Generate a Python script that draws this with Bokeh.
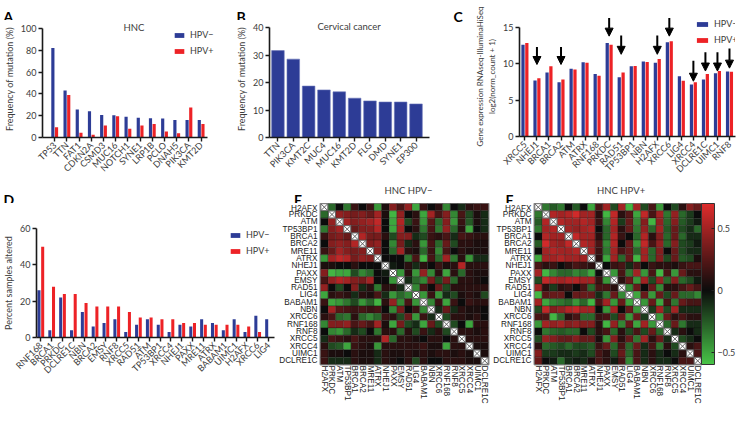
import math
from bokeh.plotting import figure
from bokeh.models import (Range1d, FactorRange, FixedTicker, Legend, LegendItem, Arrow,
                          NormalHead, LinearColorMapper, ColorBar, ColumnDataSource)
from bokeh.transform import dodge
from bokeh.layouts import row, column
from bokeh.embed import file_html
from bokeh.resources import INLINE
from bokeh.core.properties import value

# ---------------- data ----------------
a_genes = ["TP53", "TTN", "FAT1", "CDKN2A", "CSMD3", "MUC16", "NOTCH1", "SYNE1", "LRP1B",
           "PCLO", "DNAH5", "PIK3CA", "KMT2D"]
a_hpv_neg = [82, 43, 25.6, 24, 20.6, 20.3, 19, 18.2, 17.6, 17.4, 16, 16, 16]
a_hpv_pos = [9.4, 39, 4.4, 2.6, 11, 19.4, 8, 11, 12.4, 5.6, 4, 27.6, 12.4]
a_yticks = [0, 20, 40, 60, 80, 100]

b_genes = ["TTN", "PIK3CA", "KMT2C", "MUC4", "MUC16", "KMT2D", "FLG", "DMD", "SYNE1", "EP300"]
b_freq = [31.6, 28.5, 18.7, 17.3, 16.6, 14.3, 13.3, 12.9, 12.9, 12.2]
b_yticks = [0, 10, 20, 30, 40]

c_genes = ["XRCC5", "NHEJ1", "BRCA1", "BRCA2", "ATM", "ATRX", "RNF168", "PRKDC", "RAD51",
           "TP53BP1", "NBN", "H2AFX", "XRCC6", "LIG4", "XRCC4", "DCLRE1C", "UIMC1", "RNF8"]
c_hpv_neg = [12.6, 7.7, 8.8, 7.45, 9.3, 10.2, 8.6, 12.85, 8.15, 9.65, 10.3, 10.15, 12.95,
             8.3, 7.15, 7.85, 8.7, 8.95]
c_hpv_pos = [12.85, 8.0, 9.65, 7.85, 9.2, 10.15, 8.35, 12.6, 8.8, 9.7, 10.25, 10.65, 13.1,
             7.65, 7.45, 8.6, 9.0, 8.9]
c_yticks = [0, 5, 10, 15]
c_arrow_genes = ["NHEJ1", "BRCA2", "PRKDC", "RAD51", "H2AFX", "XRCC6", "XRCC4", "DCLRE1C",
                 "UIMC1", "RNF8"]
c_arrow_tail = [12.3, 12.3, 16.3, 13.9, 13.9, 16.3, 10.4, 11.6, 11.6, 12.1]
c_arrow_tip = [9.9, 9.9, 13.8, 11.3, 11.3, 13.8, 7.6, 9.0, 9.0, 9.4]

d_genes = ["RNF168", "BRCA1", "PRKDC", "DCLRE1C", "NBN", "BRCA2", "EMSY", "RNF8", "XRCC5",
           "RAD51", "ATM", "TP53BP1", "XRCC4", "NHEJ1", "PAXX", "MRE11", "ATRX", "BABAM1",
           "UIMC1", "H2AFX", "XRCC6", "LIG4"]
d_hpv_neg = [26, 4, 22, 4, 14, 6, 8, 10, 3, 7, 10, 7, 3, 7, 6, 10, 8, 4, 10, 3, 12, 10]
d_hpv_pos = [50, 28, 24, 24, 19, 17, 17, 17, 14, 11, 11, 10, 10, 8, 8, 7, 7, 7, 7, 6, 3, 0]
d_yticks = [0, 20, 40, 60]

hm_genes = ["H2AFX", "PRKDC", "ATM", "TP53BP1", "BRCA1", "BRCA2", "MRE11", "ATRX", "NHEJ1",
            "PAXX", "EMSY", "RAD51", "LIG4", "BABAM1", "NBN", "XRCC6", "RNF168", "RNF8",
            "XRCC5", "XRCC4", "UIMC1", "DCLRE1C"]

# upper triangle (row i, columns i+1 ..) of the correlation matrices
e_upper = [
    [-.3, 0, -.35, .15, 0, .15, -.45, .05, .4, .2, .45, -.5, .15, 0, .1, -.4, 0, -.1, .1, .15, .15],
    [.45, .4, .35, .4, .3, .5, .05, -.55, .45, 0, .1, -.5, .5, .2, .4, -.4, .2, -.2, .05, -.1],
    [.5, .4, .45, .5, .6, 0, -.5, .55, -.2, .15, -.45, .25, -.3, .4, -.45, .15, -.25, .05, -.1],
    [.3, .4, .4, .55, 0, -.5, .5, 0, .1, -.35, .2, -.35, .45, -.3, .1, -.5, 0, -.1],
    [.55, .35, .35, .1, -.2, .4, .4, -.1, -.2, .15, .1, .2, -.1, .2, .15, .1, .1],
    [.4, .45, 0, -.4, .35, -.1, .1, -.45, .2, -.3, .3, -.2, .1, .1, .05, .05],
    [.4, 0, -.3, .5, .1, .05, -.3, .15, -.4, .2, 0, .1, .05, .05, .05],
    [0, 0, 0, -.35, .2, -.55, .2, -.3, .5, -.35, .1, -.45, -.1, -.1],
    [-.05, 0, .1, -.1, .1, 0, .15, .05, .1, .55, .1, .1, .1],
    [-.45, .1, -.45, .45, -.4, .1, -.5, .1, -.3, .1, .05, .05],
    [-.1, -.3, -.4, .35, -.2, .35, -.3, .1, .1, .05, 0],
    [-.4, .2, 0, .3, -.2, .1, .1, .1, .1, .1],
    [-.45, .15, -.45, -.1, -.2, .05, .1, .05, -.2],
    [-.4, .15, -.5, .15, 0, .15, .1, .1],
    [-.1, .3, -.1, .1, .05, .05, 0],
    [-.2, .1, .1, .05, .1, 0],
    [-.2, 0, -.5, .1, .1],
    [.1, .1, .05, .1],
    [.1, .1, .1],
    [.05, .05],
    [.05],
]
f_upper = [
    [-.35, -.25, -.35, 0, -.25, 0, -.5, .2, .5, -.2, .5, -.55, .5, -.2, .2, -.45, 0, -.2, .1, .4, .3],
    [.55, .5, .55, .65, .5, .5, .1, -.55, .6, .1, .25, -.5, .6, .2, .5, -.35, .45, -.3, -.15, 0],
    [.55, .5, .5, .55, .5, .15, -.4, .55, -.15, .3, -.4, .4, -.55, .45, -.3, .4, -.25, -.15, -.05],
    [.5, .45, .5, .55, 0, -.3, .5, .1, .3, -.35, .45, -.3, .5, -.25, .3, -.2, -.1, -.3],
    [.6, .5, .5, .1, -.3, .55, .15, 0, -.3, .55, .1, .4, -.3, .3, -.3, -.1, -.1],
    [.55, .5, .2, -.4, .55, 0, .3, -.45, .6, .2, .45, -.3, .4, -.2, -.15, -.05],
    [.5, .15, -.35, .5, .2, .3, -.3, .5, -.3, .4, 0, .3, -.2, -.1, -.1],
    [.1, -.5, .5, -.3, .3, -.55, .5, -.3, .4, -.2, .3, -.25, -.2, .05],
    [0, .15, .2, -.1, .2, 0, .15, .1, .1, .05, .15, .2, .2],
    [-.45, .2, -.35, .5, -.45, .2, -.55, .2, -.45, .3, .1, .1],
    [.1, .3, -.45, .5, -.2, .45, -.3, .4, -.3, -.2, -.05],
    [-.4, .3, 0, .3, -.4, .1, .1, .2, .3, .2],
    [-.5, .3, -.45, .3, -.2, .3, -.3, -.3, -.4],
    [-.45, .3, -.5, .2, -.35, .3, .2, .2],
    [-.15, .5, -.2, .5, -.1, -.1, -.1],
    [-.45, .3, .1, .2, .1, .1],
    [-.3, .3, -.35, -.1, -.1],
    [-.1, .1, 0, -.1],
    [-.2, -.1, 0],
    [.1, .2],
    [.2],
]
cbar_ticks = [-0.5, 0, 0.5]
cbar_labels = ["\u22120.5", "0", "0.5"]
cbar_low, cbar_high = -0.6, 0.7

# ---------------- style ----------------
BLUE = "#2d3c96"
RED = "#ed2226"
FONT = "Lato"
HFONT = "Liberation Sans"
TXT = "#3c3c3c"


def strip(width, height, letters, titles=()):
    """A blank strip that holds panel letters and titles (positions in px)."""
    h = figure(width=width, height=height, x_range=Range1d(0, width),
               y_range=Range1d(height, 0), output_backend="svg", toolbar_location=None,
               x_axis_location=None, y_axis_location=None, min_border=0,
               min_border_left=0, min_border_right=0, min_border_top=0, min_border_bottom=0,
               frame_align=False)
    h.outline_line_color = None
    h.grid.visible = False
    h.text(x=[l[1] for l in letters], y=[l[2] for l in letters], text=[l[0] for l in letters],
           text_font=value(FONT), text_font_size=value("14px"), text_font_style="bold",
           text_align="left", text_baseline="alphabetic", text_color="black")
    if titles:
        h.text(x=[t[1] for t in titles], y=[t[2] for t in titles], text=[t[0] for t in titles],
               text_font=value(FONT), text_font_size=value("9.5px"), text_align="center",
               text_baseline="middle", text_color=TXT)
    return h


def bar_fig(width, height, borders, xr, yr, genes, yticks, ylabel, ybounds=None, xbounds=None):
    L, R, T, B = borders
    p = figure(width=width, height=height, x_range=Range1d(*xr), y_range=Range1d(*yr),
               output_backend="svg", toolbar_location=None, min_border_left=L,
               min_border_right=R, min_border_top=T, min_border_bottom=B, frame_align=False)
    p.grid.visible = False
    p.outline_line_color = None
    p.xaxis.ticker = FixedTicker(ticks=list(range(len(genes))))
    p.xaxis.major_label_overrides = {i: g for i, g in enumerate(genes)}
    p.xaxis.major_label_orientation = math.pi / 4
    p.yaxis.ticker = FixedTicker(ticks=yticks)
    if ybounds:
        p.yaxis.bounds = ybounds
    if xbounds:
        p.xaxis.bounds = xbounds
    p.yaxis.axis_label = ylabel
    for ax in (p.xaxis[0], p.yaxis[0]):
        ax.axis_line_color = "#1a1a1a"
        ax.axis_line_width = 1.6
        ax.major_tick_line_color = "#1a1a1a"
        ax.major_tick_line_width = 1.4
        ax.major_tick_out = 4
        ax.major_tick_in = 0
        ax.minor_tick_line_color = None
        ax.major_label_text_font = FONT
        ax.major_label_text_font_size = "9px"
        ax.major_label_text_color = TXT
        ax.major_label_standoff = 2
        ax.axis_label_text_font = FONT
        ax.axis_label_text_font_size = "9px"
        ax.axis_label_text_font_style = "normal"
        ax.axis_label_text_color = TXT
        ax.axis_label_standoff = 3
    return p


def frame_title(p, x, y, s):
    p.text(x=[x], y=[y], text=[s], text_font=value(FONT), text_font_size=value("9.5px"),
           text_align="center", text_baseline="middle", text_color=TXT)


def paired_bars(p, genes, neg, pos, width, off):
    src = ColumnDataSource(dict(idx=list(range(len(genes))), neg=neg, pos=pos))
    r1 = p.vbar(x=dodge("idx", -off), top="neg", width=width, source=src, fill_color=BLUE,
                line_color=None)
    r2 = p.vbar(x=dodge("idx", off), top="pos", width=width, source=src, fill_color=RED,
                line_color=None)
    return r1, r2


def legend(p, r1, r2, x, y, gw, gh, standoff):
    lg = Legend(items=[LegendItem(label="HPV\u2212", renderers=[r1]),
                       LegendItem(label="HPV+", renderers=[r2])],
                location=(x, y), border_line_color=None, background_fill_alpha=0,
                padding=0, margin=0, spacing=1, glyph_width=gw, glyph_height=gh,
                label_height=15, label_standoff=standoff, label_text_font=FONT,
                label_text_font_size="9px", label_text_color=TXT)
    p.add_layout(lg)


# ---------------- A ----------------
hA = strip(233, 20, [("A", 3, 16)])
pA = bar_fig(233, 163, (32, 17, 0, 46), (-1.0, 13.26), (0, 107.3), a_genes, a_yticks,
             "Frequency of mutation (%)", ybounds=(0, 100), xbounds=(-1.0, 12.5))
rA1, rA2 = paired_bars(pA, a_genes, a_hpv_neg, a_hpv_pos, 0.26, 0.15)
frame_title(pA, 6.5, 101.3, "HNC")
legend(pA, rA1, rA2, 131, 79, 12, 6, 5)

# ---------------- B ----------------
hB = strip(217, 20, [("B", 3, 16)])
pB = bar_fig(217, 163, (31, 21, 0, 46), (-0.55, 9.88), (0, 42.55), b_genes, b_yticks,
             "Frequency of mutation (%)", ybounds=(0, 40))
srcB = ColumnDataSource(dict(idx=list(range(len(b_genes))), v=b_freq))
pB.vbar(x="idx", top="v", width=0.82, source=srcB, fill_color=BLUE, line_color="#6a76b8",
        line_width=0.6)
frame_title(pB, 4.64, 40.2, "Cervical cancer")

# ---------------- C ----------------
hC = strip(22, 183, [("C", 3, 16)])
pC = bar_fig(267, 183, (45, 4, 16, 47), (-0.45, 17.5), (0, 16.5), c_genes, c_yticks,
             "Gene expression RNAseq-IlluminaHiSeq\nlog2(norm_count + 1)", ybounds=(0, 15))
pC.yaxis.axis_label_text_font_size = "8px"
rC1, rC2 = paired_bars(pC, c_genes, c_hpv_neg, c_hpv_pos, 0.27, 0.16)
arrow_src = ColumnDataSource(dict(x=[c_genes.index(g) for g in c_arrow_genes],
                                  y0=c_arrow_tail, y1=c_arrow_tip))
pC.add_layout(Arrow(x_start="x", y_start="y0", x_end="x", y_end="y1", source=arrow_src,
                    line_width=2, line_color="black",
                    end=NormalHead(size=8, fill_color="black", line_color="black")))
legend(pC, rC1, rC2, 176, 89, 14, 6, 5)

# ---------------- D ----------------
pD = bar_fig(276, 203, (29, 2, 25, 69), (-0.4, 21.55), (0, 60), d_genes, d_yticks,
             "Percent samples altered")
rD1, rD2 = paired_bars(pD, d_genes, d_hpv_neg, d_hpv_pos, 0.28, 0.17)
legend(pD, rD1, rD2, 193, 79, 12, 6, 5)


# ---------------- heatmaps ----------------
def make_palette(lo, hi, n=256):
    green, black, red = (72, 196, 72), (12, 12, 12), (222, 44, 44)
    pal = []
    for k in range(n):
        v = lo + (hi - lo) * k / (n - 1)
        if v < 0:
            t, c = v / lo, green
        else:
            t, c = v / hi, red
        rgb = [round(black[i] + (c[i] - black[i]) * t) for i in range(3)]
        pal.append("#%02x%02x%02x" % tuple(rgb))
    return pal


PALETTE = make_palette(cbar_low, cbar_high)


def heat_fig(width, height, borders, upper, colorbar=False):
    L, R, T, B = borders
    n = len(hm_genes)
    full = [[0.0] * n for _ in range(n)]
    for i, rowvals in enumerate(upper):
        for k, v in enumerate(rowvals):
            j = i + 1 + k
            full[i][j] = v
            full[j][i] = v
    xs, ys, vs = [], [], []
    for i in range(n):
        for j in range(n):
            if i != j:
                xs.append(hm_genes[j])
                ys.append(hm_genes[i])
                vs.append(full[i][j])
    p = figure(width=width, height=height, x_range=FactorRange(factors=hm_genes),
               y_range=FactorRange(factors=hm_genes[::-1]), output_backend="svg",
               toolbar_location=None, min_border_left=L, min_border_right=R,
               min_border_top=T, min_border_bottom=B, frame_align=False)
    p.grid.visible = False
    p.outline_line_color = "#8c8c8c"
    p.outline_line_width = 2
    src = ColumnDataSource(dict(x=xs, y=ys, v=vs))
    mapper = LinearColorMapper(palette=PALETTE, low=cbar_low, high=cbar_high)
    p.rect(x="x", y="y", width=1, height=1, source=src,
           fill_color={"field": "v", "transform": mapper},
           line_color="#111111", line_alpha=0.45, line_width=0.6)
    p.scatter(x=hm_genes, y=hm_genes, marker="square_x", size=7, fill_color="white",
              line_color="#606060", line_width=1)
    p.xaxis.major_label_orientation = "vertical"
    for ax in (p.xaxis[0], p.yaxis[0]):
        ax.axis_line_color = None
        ax.major_tick_line_color = None
        ax.minor_tick_line_color = None
        ax.major_tick_out = 0
        ax.major_tick_in = 0
        ax.major_label_text_font = HFONT
        ax.major_label_text_font_size = "8.2px"
        ax.major_label_text_color = "#222222"
    p.xaxis.major_label_standoff = 1
    p.yaxis.major_label_standoff = 3
    if colorbar:
        cb = ColorBar(color_mapper=mapper, ticker=FixedTicker(ticks=cbar_ticks),
                      major_label_overrides={t: s for t, s in zip(cbar_ticks, cbar_labels)},
                      width=13, margin=3, padding=0, label_standoff=3,
                      bar_line_color="#333333", bar_line_width=1,
                      major_tick_line_color="#222222", major_tick_in=3, major_tick_out=0,
                      minor_tick_line_color=None, major_label_text_font=FONT,
                      major_label_text_font_size="9px", major_label_text_color=TXT,
                      location=(0, 0))
        p.add_layout(cb, "right")
    return p


pE = heat_fig(214, 203, (44, 2, 0, 39), e_upper)
pF = heat_fig(249, 203, (42, 38, 0, 39), f_upper, colorbar=True)
hBottom = strip(739, 20, [("D", 3, 16), ("E", 293.6, 16), ("F", 505, 16)],
                [("HNC HPV\u2212", 408, 7), ("HNC HPV+", 620.6, 7)])

layout = column(row(column(hA, pA), column(hB, pB), row(hC, pC)),
                column(hBottom, row(pD, pE, pF)))
open("out.html", "w").write(file_html(layout, INLINE))
